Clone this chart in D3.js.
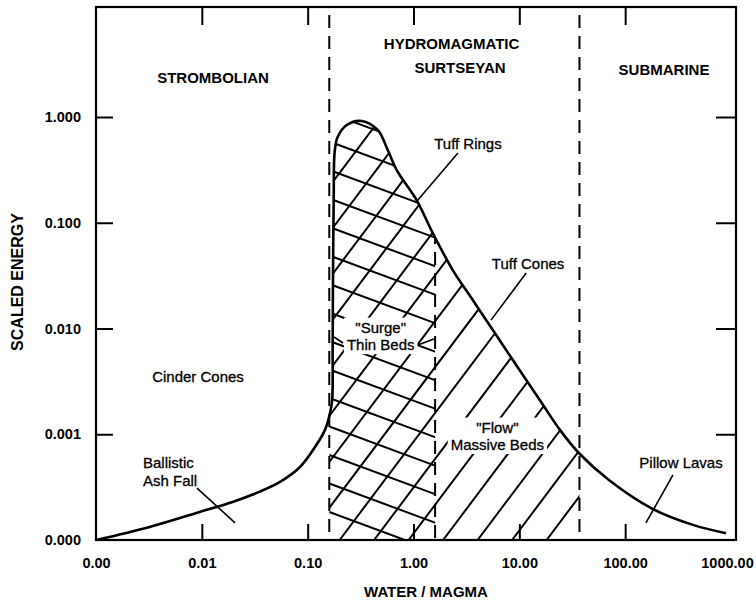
<!DOCTYPE html>
<html lang="en">
<head>
<meta charset="UTF-8">
<title>Scaled energy vs water / magma</title>
<script src="https://cdn.jsdelivr.net/npm/d3@7/dist/d3.min.js"></script>
<style>
    body { margin: 0; background: #fff; }
    text { font-family: "Liberation Sans", Arial, sans-serif; }
</style>
</head>
<body>
<div id="container"></div>
<script>
    const width = 756;
    const height = 601;
    const margin = { top: 7, right: 20, bottom: 61, left: 96 };

    // points along the energy curve
    const ratio = [0.001, 0.00321, 0.00952, 0.0195, 0.0354, 0.0548, 0.0846, 0.1173, 0.1458, 0.1627,
        0.1705, 0.1722, 0.1735, 0.1762, 0.180, 0.192, 0.234, 0.324, 0.459, 0.571,
        0.694, 1.07, 1.52, 2.35, 3.63, 5.87, 8.68, 15.6, 24.2, 36.5,
        70.2, 183, 437, 897];
    const energy = [0.0001, 0.000133, 0.000184, 0.000229, 0.000287, 0.000354, 0.00049, 0.000757, 0.0011, 0.00159,
        0.00211, 0.00626, 0.0287, 0.164, 0.467, 0.647, 0.84, 0.917, 0.754, 0.487,
        0.315, 0.164, 0.080, 0.0357, 0.0186, 0.00906, 0.00504, 0.00211, 0.0011, 0.000665,
        0.000369, 0.000196, 0.000139, 0.000116];

    const xLabels = [0.001, 0.01, 0.1, 1, 10, 100, 1000];
    const xTicks = [0.01, 0.1, 1, 10, 100];
    const yLabels = [0.0001, 0.001, 0.01, 0.1, 1];
    const yTicks = [0.001, 0.01, 0.1, 1];

    // regime boundaries (water/magma)
    const bounds = [0.16, 1.6, 37];

    const zoneNames = ["STROMBOLIAN", "HYDROMAGMATIC", "SURTSEYAN", "SUBMARINE"];
    const zoneX = [0.01275, 2.29, 2.75, 233];
    const zoneY = [2.10, 4.40, 2.58, 2.50];

    const noteLines = [["Tuff Rings"], ["Tuff Cones"], ["Pillow Lavas"], ["Cinder Cones"],
        ["Ballistic", "Ash Fall"], ["\"Surge\"", "Thin Beds"], ["\"Flow\"", "Massive Beds"]];
    const noteX = [3.27, 12.1, 337, 0.0092, 0.00278, 0.49, 6.2];
    const noteY = [0.567, 0.0416, 0.000546, 0.00348, 0.000535, 0.0103, 0.00117];
    const noteAnchor = ["middle", "middle", "middle", "middle", "start", "middle", "middle"];
    const noteBoxed = [false, false, false, false, false, true, true];

    // leader lines: x1, y1, x2, y2
    const leaders = [
        [2.63, 0.457, 1.10, 0.164],
        [11.6, 0.0335, 5.40, 0.0120],
        [283, 0.000412, 157, 0.000145],
        [0.0090, 0.000310, 0.0206, 0.000145],
        [0.1775, 0.00831, 0.216, 0.00729],
        [1.10, 0.00698, 1.56, 0.00796]
    ];

    const x = d3.scaleLog().domain([0.001, 1115]).range([margin.left, width - margin.right]);
    const y = d3.scaleLog().domain([0.0001, 10.97]).range([height - margin.bottom, margin.top]);
    const yb = y.range()[0];

    const svg = d3.select('#container').append('svg')
        .attr('width', width)
        .attr('height', height)
        .style('background', '#fff');

    const pts = ratio.map((r, i) => [x(r), y(energy[i])]);
    const line = d3.line().curve(d3.curveCatmullRom.alpha(0.5));
    const curvePath = line(pts);

    const x0 = x(bounds[0]), x1 = x(bounds[1]), x2 = x(bounds[2]);

    const defs = svg.append("defs");
    defs.append("clipPath").attr("id", "under").append("path")
        .attr("d", curvePath + `L${pts[pts.length - 1][0]},${yb}L${pts[0][0]},${yb}Z`);
    defs.append("clipPath").attr("id", "wet").append("rect")
        .attr("x", x0).attr("y", 0).attr("width", x2 - x0).attr("height", yb);
    defs.append("clipPath").attr("id", "surge").append("rect")
        .attr("x", x0).attr("y", 0).attr("width", x1 - x0).attr("height", yb);

    // hatching
    const hatch = svg.append("g").attr("clip-path", "url(#wet)")
        .append("g").attr("clip-path", "url(#under)")
        .attr("stroke", "#000").attr("stroke-width", 2);

    const upSlope = 1.33;
    hatch.selectAll("line.up")
        .data(d3.range(-14, 8).map(k => x1 + 8 + 34.5 * k))
        .join("line").attr("class", "up")
        .attr("x1", d => d).attr("y1", yb)
        .attr("x2", d => d + yb / upSlope).attr("y2", 0);

    const downSlope = 0.37;
    hatch.append("g").attr("clip-path", "url(#surge)")
        .selectAll("line")
        .data(d3.range(-2, 16).map(k => y(1) + 26 + 28.5 * k))
        .join("line")
        .attr("x1", x0 - 20).attr("y1", d => d - 24 * downSlope)
        .attr("x2", x1 + 20).attr("y2", d => d + (x1 + 16 - x0) * downSlope);

    // middle boundary only under the curve
    hatch.append("line")
        .attr("x1", x1).attr("x2", x1).attr("y1", 0).attr("y2", yb)
        .attr("stroke-width", 2).attr("stroke-dasharray", "13,8");

    // full-height boundaries
    svg.append("g").selectAll("line")
        .data([bounds[0], bounds[2]])
        .join("line")
        .attr("x1", d => x(d)).attr("x2", d => x(d))
        .attr("y1", margin.top).attr("y2", yb)
        .attr("stroke", "#000").attr("stroke-width", 2)
        .attr("stroke-dasharray", "13,8").attr("stroke-dashoffset", 13);

    // curve
    svg.append("path")
        .attr("d", curvePath)
        .attr("fill", "none")
        .attr("stroke", "#000")
        .attr("stroke-width", 2.6);

    // frame
    svg.append("rect")
        .attr("x", margin.left).attr("y", margin.top)
        .attr("width", width - margin.left - margin.right)
        .attr("height", yb - margin.top)
        .attr("fill", "none").attr("stroke", "#000").attr("stroke-width", 2.2);

    const styleTicks = g => {
        g.select(".domain").remove();
        g.selectAll("line").attr("stroke-width", 2);
    };
    svg.append("g").attr("transform", `translate(0,${yb})`)
        .call(d3.axisBottom(x).tickValues(xTicks).tickSize(-16).tickFormat(""))
        .call(styleTicks);
    svg.append("g").attr("transform", `translate(0,${margin.top})`)
        .call(d3.axisTop(x).tickValues(xTicks).tickSize(-18).tickFormat(""))
        .call(styleTicks);
    svg.append("g").attr("transform", `translate(${margin.left},0)`)
        .call(d3.axisLeft(y).tickValues(yTicks).tickSize(-17).tickFormat(""))
        .call(styleTicks);
    svg.append("g").attr("transform", `translate(${width - margin.right},0)`)
        .call(d3.axisRight(y).tickValues(yTicks).tickSize(-20).tickFormat(""))
        .call(styleTicks);

    const styleLabels = g => {
        g.select(".domain").remove();
        g.attr("font-family", null).attr("font-size", 14.5).attr("font-weight", "bold");
    };
    svg.append("g").attr("transform", `translate(0,${yb})`)
        .call(d3.axisBottom(x).tickValues(xLabels).tickSize(0).tickPadding(18).tickFormat(d3.format(".2f")))
        .call(styleLabels)
        .call(g => g.selectAll(".tick text").filter(d => d === 1000).attr("dx", -4));
    svg.append("g").attr("transform", `translate(${margin.left},0)`)
        .call(d3.axisLeft(y).tickValues(yLabels).tickSize(0).tickPadding(15).tickFormat(d3.format(".3f")))
        .call(styleLabels);

    // axis titles
    svg.append("text")
        .attr("transform", "translate(17,282) rotate(-90)")
        .attr("text-anchor", "middle")
        .attr("dominant-baseline", "central")
        .attr("font-size", 16).attr("font-weight", "bold")
        .text("SCALED ENERGY");
    svg.append("text")
        .attr("x", 426).attr("y", 597)
        .attr("text-anchor", "middle")
        .attr("font-size", 15).attr("font-weight", "bold")
        .text("WATER / MAGMA");

    // regime names
    svg.append("g").selectAll("text")
        .data(zoneNames)
        .join("text")
        .attr("x", (d, i) => x(zoneX[i]))
        .attr("y", (d, i) => y(zoneY[i]))
        .attr("text-anchor", "middle")
        .attr("font-size", 15).attr("font-weight", "bold")
        .text(d => d);

    // annotations
    const notes = svg.append("g").selectAll("g")
        .data(noteLines)
        .join("g");
    notes.each(function (lines, i) {
        const g = d3.select(this);
        const t = g.append("text")
            .attr("font-size", 15)
            .attr("stroke", "#000").attr("stroke-width", 0.3)
            .attr("text-anchor", noteAnchor[i]);
        lines.forEach((s, j) => {
            t.append("tspan")
                .attr("x", x(noteX[i]))
                .attr("y", y(noteY[i]) + j * 17.5)
                .attr("dominant-baseline", "central")
                .text(s);
        });
        if (noteBoxed[i]) {
            const b = t.node().getBBox();
            g.insert("rect", "text")
                .attr("x", b.x - 3).attr("y", b.y - 1)
                .attr("width", b.width + 6).attr("height", b.height + 2)
                .attr("fill", "#fff");
        }
    });

    svg.append("g").selectAll("line")
        .data(leaders)
        .join("line")
        .attr("x1", d => x(d[0])).attr("y1", d => y(d[1]))
        .attr("x2", d => x(d[2])).attr("y2", d => y(d[3]))
        .attr("stroke", "#000").attr("stroke-width", 1.6);
</script>
</body>
</html>
